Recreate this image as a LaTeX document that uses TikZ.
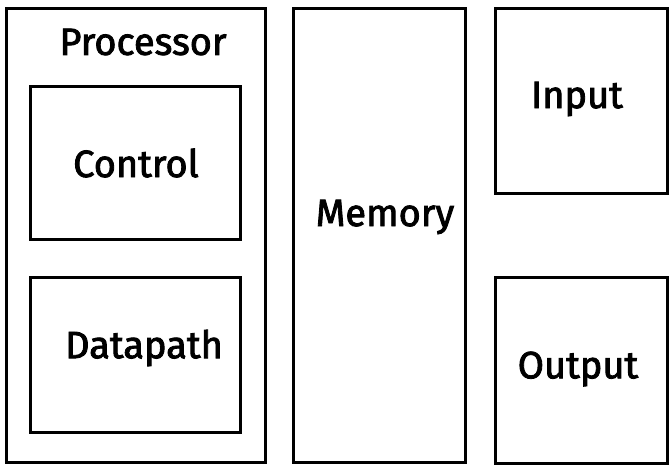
\documentclass[tikz,border=0pt]{standalone}
\usepackage{fontspec}
\newfontfamily\lblfont{Fira Sans}[FakeBold=2.2]
\begin{document}
\begin{tikzpicture}[x=1pt,y=-1pt,
  unitbox/.style={draw=black, line width=3pt, fill=none, inner sep=0pt, outer sep=0pt},
  boxtext/.style={font=\lblfont\fontsize{38}{41}\selectfont, inner sep=0pt}]
  \useasboundingbox[fill=white] (0,0) rectangle (672,470);
  % outer blocks
  \node[unitbox, minimum width=259pt, minimum height=454pt] (proc) at (135.5,235.5) {};
  \node[unitbox, minimum width=172pt, minimum height=454pt] (mem) at (379,235.5) {};
  \node[unitbox, minimum width=172pt, minimum height=185pt] (in) at (581,101) {};
  \node[unitbox, minimum width=172pt, minimum height=185pt] (out) at (581,370.5) {};
  % processor parts
  \node[unitbox, minimum width=210pt, minimum height=153pt] (ctl) at (135,163.5) {};
  \node[unitbox, minimum width=210pt, minimum height=154pt] (dp) at (135,355) {};
  % labels
  \node[boxtext] (proclbl) at (143,42) {Processor};
  \node[boxtext] (ctllbl) at (136,163) {Control};
  \node[boxtext] (dplbl) at (144,348) {Datapath};
  \node[boxtext] (memlbl) at (385,217) {Memory};
  \node[boxtext] (inlbl) at (577,99) {Input};
  \node[boxtext] (outlbl) at (578,369) {Output};
\end{tikzpicture}
\end{document}
